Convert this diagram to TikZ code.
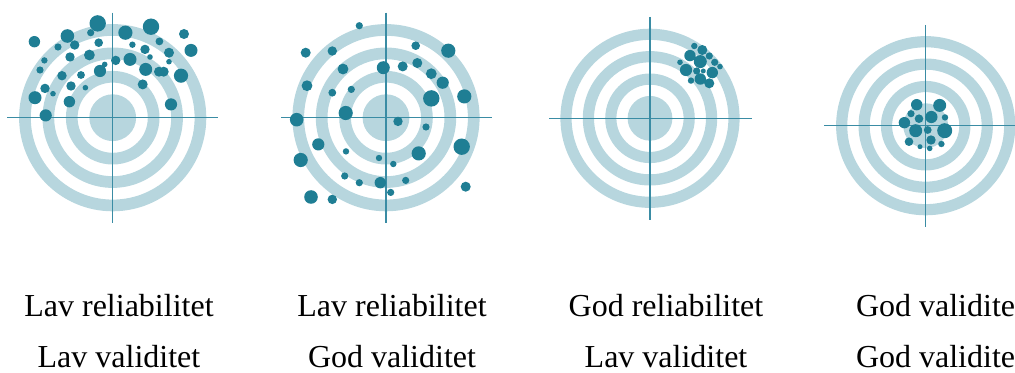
\documentclass[tikz,border=0pt]{standalone}
\usepackage{fontspec}
\setmainfont{Liberation Serif}
\usepackage{tikz}
\usetikzlibrary{positioning}

\definecolor{ringblue}{HTML}{B7D6DE}
\definecolor{dotteal}{HTML}{1F7E94}
\definecolor{crossteal}{HTML}{3A8CA4}

\tikzset{
  rings/.style={fill=ringblue, even odd rule},
  cross/.style={draw=crossteal, line width=1.1pt},
  shot/.style={fill=dotteal},
  label/.style={anchor=base, inner sep=0pt, font=\fontsize{24}{28}\selectfont}
}

\begin{document}
\begin{tikzpicture}[x=0.75pt,y=0.75pt]
\useasboundingbox (0,0) rectangle (1015,372);

% target 1
\begin{scope}[shift={(112.7,254.3)}]
  \fill[rings] (0,0) circle (93.6) circle (81.9) circle (70.2) circle (58.5)
     circle (46.8) circle (35.1) circle (23.4);
  \draw[cross] (-105.5,0) -- (105.5,0);
  \draw[cross] (0,105) -- (0,-105);
  \fill[shot] (-15,94.3) circle (8.2) (38.3,91) circle (8.2) (12.7,85) circle (7.1)
     (-45.3,81.7) circle (6.8) (-78.3,76) circle (5.7) (71.3,83.7) circle (5);
  \fill[shot] (-22,85) circle (3.6) (-38,72.7) circle (4.7) (-54.7,70.7) circle (3.6)
     (-14,75) circle (4.3) (19.7,73) circle (3.2) (32.3,68.3) circle (4.7);
  \fill[shot] (46.7,76.3) circle (3.9) (78.3,67.3) circle (6.5) (56.3,65) circle (5)
     (-68.3,57.3) circle (3.2) (-42.7,60.7) circle (4.7) (-23.3,62.7) circle (5.4);
  \fill[shot] (3,57.3) circle (4.7) (17.3,58.3) circle (6.5) (37.3,60.7) circle (2.8)
     (56.3,56) circle (2.8) (-72.7,47.7) circle (3.6) (-50.7,42) circle (4.7);
  \fill[shot] (-31.7,42.7) circle (3.9) (-12.7,46.7) circle (6.1) (-8,53.3) circle (2.8)
     (33,48.3) circle (6.5) (46.3,46) circle (5) (51,46) circle (5);
  \fill[shot] (68.3,42) circle (7.1) (-67.7,29.3) circle (4.7) (-41.7,31.7) circle (4.7)
     (-27.3,30) circle (2.8) (-59.7,24) circle (2.8) (-77.7,20) circle (6.5);
  \fill[shot] (-43.3,16) circle (5.7) (30,33.3) circle (5) (58.3,13.3) circle (6.1)
     (-67,2.3) circle (6.1);
\end{scope}

% target 2
\begin{scope}[shift={(386,254.3)}]
  \fill[rings] (0,0) circle (93.6) circle (81.9) circle (70.2) circle (58.5)
     circle (46.8) circle (35.1) circle (23.4);
  \draw[cross] (-105,0) -- (105.7,0);
  \draw[cross] (0,105) -- (0,-105);
  \fill[shot] (-26.7,92) circle (3.6) (-80.3,65) circle (5) (-53.7,66.7) circle (4.7)
     (29.7,72) circle (4.3) (62.3,67) circle (7.1) (-43,48.7) circle (5.4);
  \fill[shot] (-2.7,50) circle (6.5) (16.7,51.3) circle (5) (31.3,54.7) circle (5)
     (45.3,44) circle (5.4) (56.7,35) circle (6.1) (-79,32) circle (5.4);
  \fill[shot] (-53.7,25) circle (3.9) (-34.7,28.3) circle (3.6) (45.3,19.3) circle (8.2)
     (78.3,21.3) circle (7.1) (-40.3,4.7) circle (7.1) (-89.3,-2) circle (6.8);
  \fill[shot] (12,-3.7) circle (4.7) (40,-9.3) circle (3.6) (-67.7,-26.7) circle (6.1)
     (75.7,-29) circle (8.2) (-40,-33.7) circle (3.2) (32.7,-35.7) circle (7.1);
  \fill[shot] (-7,-40.3) circle (3.2) (7.3,-46.3) circle (3.2) (-85.3,-42.3) circle (7.1)
     (-41.3,-58.3) circle (3.6) (-26.7,-65) circle (3.6) (-5.7,-65) circle (5.7);
  \fill[shot] (19.7,-62.7) circle (3.6) (4.7,-74.7) circle (3.6) (-75,-79.3) circle (6.8)
     (-53.7,-81.7) circle (4.7) (79.7,-69) circle (5);
\end{scope}

% target 3
\begin{scope}[shift={(650,253.7)}]
  \fill[rings] (0,0) circle (89.6) circle (78.4) circle (67.2) circle (56)
     circle (44.8) circle (33.6) circle (22.4);
  \draw[cross] (-101,0) -- (101.7,0);
  \draw[cross] (0,101.3) -- (0,-101.7);
  \fill[shot] (44.3,72.3) circle (3.2) (52.3,68.3) circle (5) (40,62.7) circle (5.7)
     (59.3,62.3) circle (3.6) (50.3,56.7) circle (6.5) (30,56) circle (2.8);
  \fill[shot] (64.7,56) circle (3.6) (70,51.7) circle (2.8) (36,48.3) circle (6.1)
     (46.7,47.3) circle (3.6) (53.3,47.3) circle (2.5) (62.3,45.7) circle (5.7);
  \fill[shot] (50.3,39.3) circle (5.7) (41,37.7) circle (3.2) (59.3,35) circle (5);
\end{scope}

% target 4
\begin{scope}[shift={(925.7,246.3)}]
  \fill[rings] (0,0) circle (89.6) circle (78.4) circle (67.2) circle (56)
     circle (44.8) circle (33.6) circle (22.4);
  \draw[cross] (-101.7,0) -- (101.7,0);
  \draw[cross] (0,100.7) -- (0,-101);
  \fill[shot] (-9,21) circle (5.7) (14,20.3) circle (6.5) (-14.7,12) circle (3.6)
     (-6.7,7) circle (4.3) (5.7,8.7) circle (6.1) (19.3,8.3) circle (3.2);
  \fill[shot] (-21.3,3) circle (5.7) (-10,-5) circle (6.5) (2,-4.3) circle (3.9)
     (19,-5) circle (7.5) (5.3,-14.3) circle (4.7) (-16.7,-16) circle (4.3);
  \fill[shot] (15.7,-18.3) circle (3.2) (-5.7,-21) circle (2.5) (4,-22.7) circle (2.8);
\end{scope}

% labels
\node[label] (rel1) at (119,56) {Lav reliabilitet};
\node[label] (val1) at (119,4.5) {Lav validitet};
\node[label] (rel2) at (392,56) {Lav reliabilitet};
\node[label] (val2) at (392,4.5) {God validitet};
\node[label] (rel3) at (666,56) {God reliabilitet};
\node[label] (val3) at (666,4.5) {Lav validitet};
\node[label] (rel4) at (940,56) {God validitet};
\node[label] (val4) at (940,4.5) {God validitet};
\end{tikzpicture}
\end{document}
